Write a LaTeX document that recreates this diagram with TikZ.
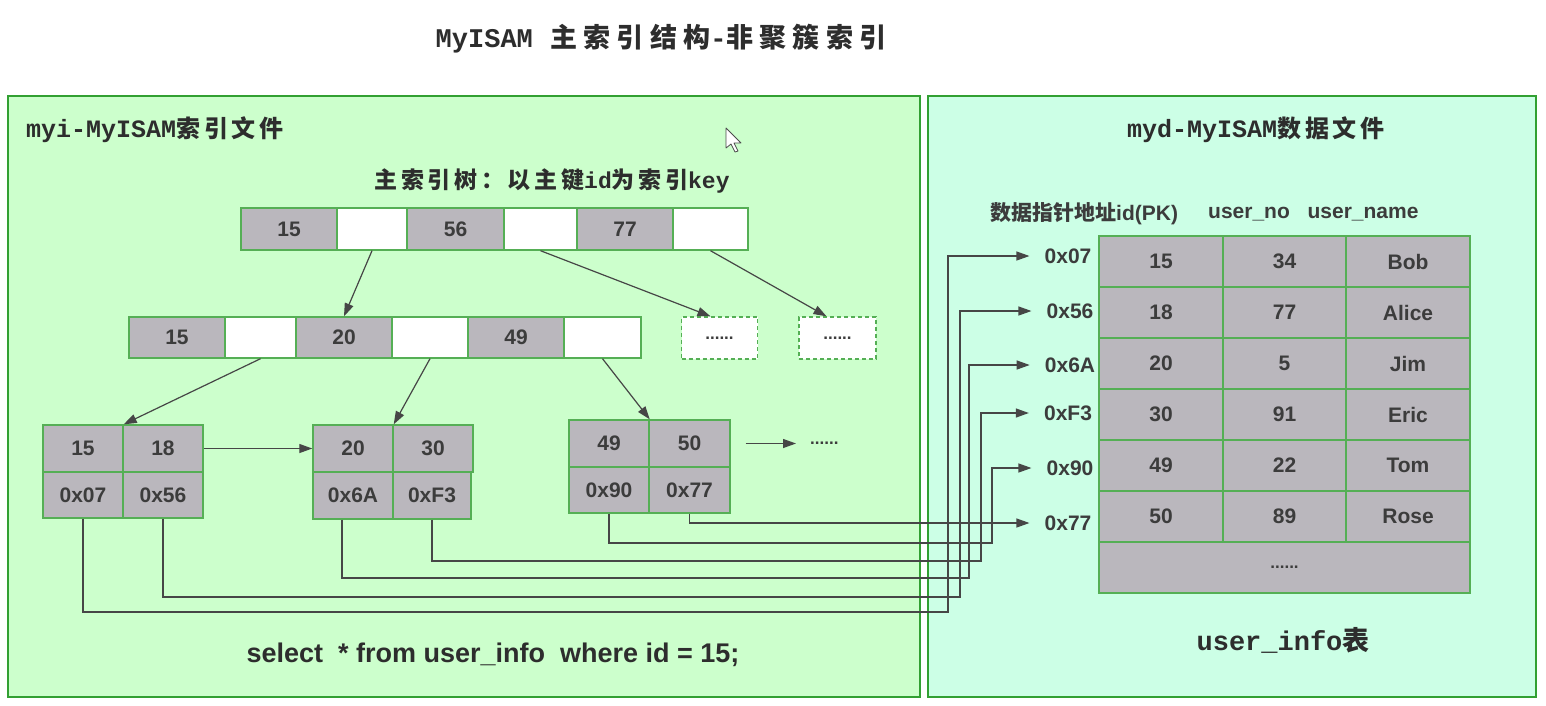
\documentclass[tikz,border=0pt]{standalone}
\usepackage{fontspec}
\setmainfont{Liberation Sans}
\newfontfamily\cjk{Noto Sans CJK SC}
\newfontfamily\cjksp[LetterSpace=16]{Noto Sans CJK SC}
\newfontfamily\cjkwide[LetterSpace=23]{Noto Sans CJK SC}
\newfontfamily\mono{Liberation Mono}
\usetikzlibrary{arrows.meta}

\definecolor{leftbg}{RGB}{204,255,204}
\definecolor{rightbg}{RGB}{204,255,230}
\definecolor{panelline}{RGB}{50,160,50}
\definecolor{cellline}{RGB}{85,175,85}
\definecolor{cellgrey}{RGB}{186,183,189}
\definecolor{ink}{RGB}{60,60,60}
\definecolor{headink}{RGB}{45,45,45}
\definecolor{wire}{RGB}{70,70,70}

\begin{document}
\begin{tikzpicture}[x=1pt,y=-1pt,
  cellfont/.style={font=\fontsize{21}{21}\selectfont\bfseries, text=ink},
  keycell/.style={draw=cellline, line width=1.4pt, fill=cellgrey, inner sep=0pt, cellfont},
  slotcell/.style={draw=cellline, line width=1.4pt, fill=white, inner sep=0pt},
  pendcell/.style={draw=cellline, line width=1.4pt, fill=white, inner sep=0pt,
    dash pattern=on 4pt off 3pt, font=\fontsize{17}{17}\selectfont\bfseries, text=ink},
  dotsfont/.style={font=\fontsize{17}{17}\selectfont\bfseries, text=ink},
  ptrlabel/.style={cellfont, inner sep=0pt},
  panel/.style={draw=panelline, line width=2pt},
  link/.style={draw=wire, line width=1.2pt, -{Triangle[length=13pt,width=9pt]}}
]
\useasboundingbox (0,0) rectangle (1546,705);
\fill[white] (0,0) rectangle (1546,705);

% panels
\node[panel, fill=leftbg, minimum width=912, minimum height=601, inner sep=0pt] (leftpanel) at (464,396.5) {};
\node[panel, fill=rightbg, minimum width=608, minimum height=601, inner sep=0pt] (rightpanel) at (1231.5,396.5) {};

% title and captions
\node[text=headink, inner sep=0pt] (title) at (661,39)
  {\fontsize{27}{27}\selectfont{\mono\bfseries MyISAM}\hspace{10pt} {\cjkwide\bfseries 主索引结构}{\mono\bfseries -}{\cjkwide\bfseries 非聚簇索引}};
\node[text=headink, inner sep=0pt, anchor=west] (idxfile) at (26,130)
  {{\fontsize{25}{25}\selectfont\mono\bfseries myi-MyISAM}{\fontsize{24}{24}\selectfont\cjksp\bfseries 索引文件}};
\node[text=headink, inner sep=0pt] (datafile) at (1256,130)
  {{\fontsize{25}{25}\selectfont\mono\bfseries myd-MyISAM}{\fontsize{24}{24}\selectfont\cjksp\bfseries 数据文件}};
\node[text=headink, inner sep=0pt] (treecap) at (552,181)
  {{\fontsize{23}{23}\selectfont\cjksp\bfseries 主索引树：以主键}{\fontsize{23}{23}\selectfont\mono\bfseries id}{\fontsize{23}{23}\selectfont\cjksp\bfseries 为索引}{\fontsize{23}{23}\selectfont\mono\bfseries key}};

% root level
\node[keycell, minimum width=96, minimum height=42] (t1) at (289,229) {15};
\node[slotcell, minimum width=70, minimum height=42] (t2) at (372,229) {};
\node[keycell, minimum width=97, minimum height=42] (t3) at (455.5,229) {56};
\node[slotcell, minimum width=73, minimum height=42] (t4) at (540.5,229) {};
\node[keycell, minimum width=96, minimum height=42] (t5) at (625,229) {77};
\node[slotcell, minimum width=75, minimum height=42] (t6) at (710.5,229) {};

% second level
\node[keycell, minimum width=96, minimum height=41] (m1) at (177,337.5) {15};
\node[slotcell, minimum width=71, minimum height=41] (m2) at (260.5,337.5) {};
\node[keycell, minimum width=96, minimum height=41] (m3) at (344,337.5) {20};
\node[slotcell, minimum width=76, minimum height=41] (m4) at (430,337.5) {};
\node[keycell, minimum width=96, minimum height=41] (m5) at (516,337.5) {49};
\node[slotcell, minimum width=77, minimum height=41] (m6) at (602.5,337.5) {};
\node[pendcell, minimum width=76, minimum height=42, text depth=-6pt] (d1) at (719.5,338) {......};
\node[pendcell, minimum width=77, minimum height=42, text depth=-6pt] (d2) at (837.5,338) {......};

% leaves
\node[keycell, minimum width=80, minimum height=47] (l1a) at (83,448.5) {15};
\node[keycell, minimum width=80, minimum height=47] (l1b) at (163,448.5) {18};
\node[keycell, minimum width=80, minimum height=46] (l1c) at (83,495) {0x07};
\node[keycell, minimum width=80, minimum height=46] (l1d) at (163,495) {0x56};

\node[keycell, minimum width=80, minimum height=47] (l2a) at (353,448.5) {20};
\node[keycell, minimum width=80, minimum height=47] (l2b) at (433,448.5) {30};
\node[keycell, minimum width=80, minimum height=47] (l2c) at (353,495.5) {0x6A};
\node[keycell, minimum width=78, minimum height=47] (l2d) at (432,495.5) {0xF3};

\node[keycell, minimum width=80, minimum height=47] (l3a) at (609,443.5) {49};
\node[keycell, minimum width=81, minimum height=47] (l3b) at (689.5,443.5) {50};
\node[keycell, minimum width=80, minimum height=46] (l3c) at (609,490) {0x90};
\node[keycell, minimum width=81, minimum height=46] (l3d) at (689.5,490) {0x77};

\node[dotsfont, inner sep=0pt, anchor=west] (lmore) at (810,443.5) {......};

% tree links
\draw[link] (t2.south) -- (m3.north);
\draw[link] (t4.south) -- ([xshift=-9pt]d1.north);
\draw[link] (t6.south) -- ([xshift=-11pt]d2.north);
\draw[link] (m2.south) -- (l1a.north east);
\draw[link] (m4.south) -- (l2a.north east);
\draw[link] (m6.south) -- (l3a.north east);
\draw[link] (l1b.east) -- (l2a.west);
\draw[link] ([xshift=15pt]l3b.east) -- ([xshift=-14pt]lmore.west);

% data file table
\node[font=\fontsize{21}{21}\selectfont\bfseries, text=ink, inner sep=0pt, anchor=west] (hptr) at (990,214)
  {{\cjk\bfseries 数据指针地址}id(PK)};
\node[font=\fontsize{21}{21}\selectfont\bfseries, text=ink, inner sep=0pt] (hno) at (1249,214) {user\_no};
\node[font=\fontsize{21}{21}\selectfont\bfseries, text=ink, inner sep=0pt] (hname) at (1363,214) {user\_name};

\foreach \a/\b/\c [count=\i] in {15/34/Bob,18/77/Alice,20/5/Jim,30/91/Eric,49/22/Tom,50/89/Rose}{
  \node[keycell, minimum width=124, minimum height=51] (ra\i) at (1161,{210.5+51*\i}) {\a};
  \node[keycell, minimum width=123, minimum height=51] (rb\i) at (1284.5,{210.5+51*\i}) {\b};
  \node[keycell, minimum width=124, minimum height=51] (rc\i) at (1408,{210.5+51*\i}) {\c};
}
\node[keycell, minimum width=371, minimum height=51, dotsfont] (rmore) at (1284.5,567.5) {......};

% row addresses
\node[ptrlabel] (p1) at (1068,256) {0x07};
\node[ptrlabel] (p2) at (1070,311) {0x56};
\node[ptrlabel] (p3) at (1070,365) {0x6A};
\node[ptrlabel] (p4) at (1068,413) {0xF3};
\node[ptrlabel] (p5) at (1070,468) {0x90};
\node[ptrlabel] (p6) at (1068,523) {0x77};

% leaf pointers into the data file
\draw[link] (l1c.south) |- (948,612) |- ([xshift=-15pt]p1.west);
\draw[link] (l1d.south) |- (960,597) |- ([xshift=-15pt]p2.west);
\draw[link] ([xshift=-11pt]l2c.south) |- (969,578) |- ([xshift=-15pt]p3.west);
\draw[link] (l2d.south) |- (981,561) |- ([xshift=-15pt]p4.west);
\draw[link] (l3c.south) |- (992,543) |- ([xshift=-15pt]p5.west);
\draw[link] (l3d.south) |- ([xshift=-15pt]p6.west);

% footer texts
\node[font=\fontsize{27}{27}\selectfont\bfseries, text=headink, inner sep=0pt] (query) at (493,655)
  {select\ \ * from user\_info\ \ where id = 15;};
\node[text=headink, inner sep=0pt] (tabname) at (1283,640)
  {\fontsize{27}{27}\selectfont{\mono\bfseries user\_info}{\cjk\bfseries 表}};

% mouse pointer
\draw[draw=black!70, fill=white, line width=0.8pt, line join=round]
  (726,128) -- (726,148) -- (731,144) -- (735,152) -- (738,151) -- (734,143) -- (741,143) -- cycle;
\end{tikzpicture}
\end{document}
